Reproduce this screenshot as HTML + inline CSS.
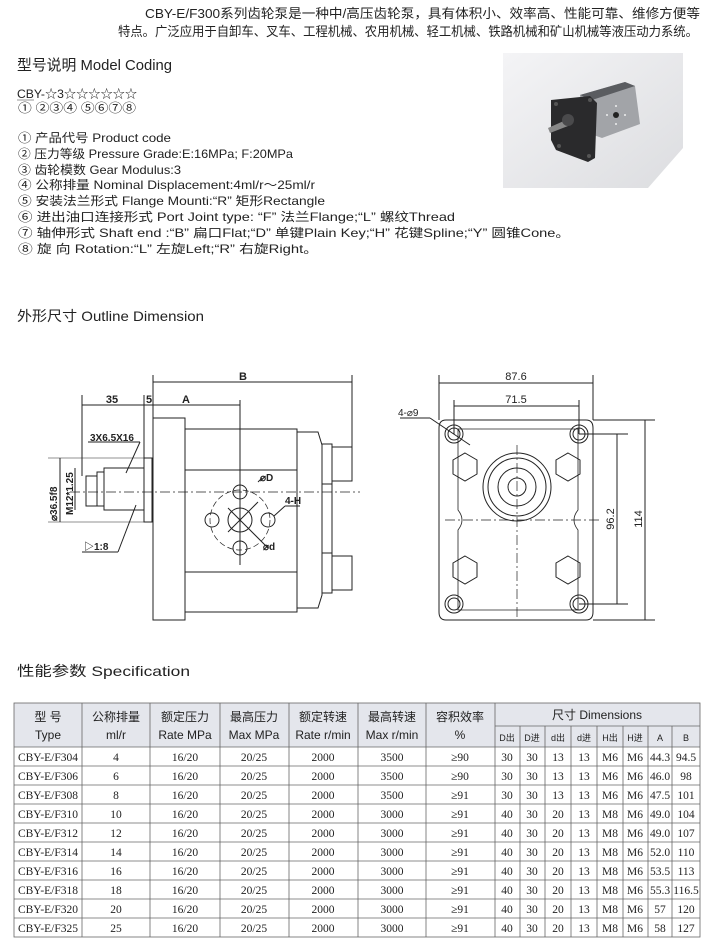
<!DOCTYPE html>
<html><head><meta charset="utf-8"><style>
body{margin:0;background:#fff;}
svg{display:block}
.t{font-family:"Liberation Sans Narrow","Liberation Sans","Noto Sans CJK SC",sans-serif;fill:#222}
.m{font-family:"Liberation Mono","Noto Sans CJK SC",monospace;fill:#222}
.s{font-family:"Liberation Serif","Noto Serif CJK SC",serif;fill:#222}
.c{font-family:"Liberation Sans","Noto Sans CJK SC",sans-serif;fill:#222}
</style></head><body>
<svg width="710" height="941" viewBox="0 0 710 941" xmlns="http://www.w3.org/2000/svg">
<defs><linearGradient id="g" x1="0" y1="0" x2="1" y2="1"><stop offset="0" stop-color="#f4f4f6"/><stop offset="1" stop-color="#dcdde0"/></linearGradient></defs>
<text class="t" x="700" y="18" font-size="13" text-anchor="end" textLength="555" lengthAdjust="spacingAndGlyphs">CBY-E/F300系列齿轮泵是一种中/高压齿轮泵，具有体积小、效率高、性能可靠、维修方便等</text>
<text class="t" x="698" y="36" font-size="13" text-anchor="end" textLength="580" lengthAdjust="spacingAndGlyphs">特点。广泛应用于自卸车、叉车、工程机械、农用机械、轻工机械、铁路机械和矿山机械等液压动力系统。</text>
<text class="t" x="17" y="70" font-size="15" textLength="155" lengthAdjust="spacingAndGlyphs">型号说明 Model Coding</text>
<text class="t" x="17" y="98" font-size="12" textLength="120" lengthAdjust="spacingAndGlyphs">CBY-☆3☆☆☆☆☆☆</text>
<line x1="17" y1="100" x2="34" y2="100" stroke="#333" stroke-width="0.6"/>
<text class="c" x="18" y="112" font-size="12" textLength="118" lengthAdjust="spacingAndGlyphs">① ②③④ ⑤⑥⑦⑧</text>
<g class="t" font-size="12">
<text x="18" y="142" textLength="153" lengthAdjust="spacingAndGlyphs">① 产品代号 Product code</text>
<text x="18" y="158" textLength="275" lengthAdjust="spacingAndGlyphs">② 压力等级 Pressure Grade:E:16MPa; F:20MPa</text>
<text x="18" y="174" textLength="163" lengthAdjust="spacingAndGlyphs">③ 齿轮模数 Gear Modulus:3</text>
<text x="18" y="189" textLength="297" lengthAdjust="spacingAndGlyphs">④ 公称排量 Nominal Displacement:4ml/r～25ml/r</text>
<text x="18" y="205" textLength="307" lengthAdjust="spacingAndGlyphs">⑤ 安装法兰形式 Flange Mounti:“R” 矩形Rectangle</text>
<text x="18" y="221" textLength="437" lengthAdjust="spacingAndGlyphs">⑥ 进出油口连接形式 Port Joint type: “F” 法兰Flange;“L” 螺纹Thread</text>
<text x="18" y="237" textLength="552" lengthAdjust="spacingAndGlyphs">⑦ 轴伸形式 Shaft end :“B” 扁口Flat;“D” 单键Plain Key;“H” 花键Spline;“Y” 圆锥Cone。</text>
<text x="18" y="253" textLength="300" lengthAdjust="spacingAndGlyphs">⑧ 旋 向 Rotation:“L” 左旋Left;“R” 右旋Right。</text>
</g>
<!-- photo -->
<polygon points="503,53 683,53 683,148 648,188 503,188" fill="url(#g)"/>
<polygon points="580,95 625,82 635,86 640,124 602,138 585,132" fill="#a2a4a8"/>
<polygon points="580,95 625,82 635,86 592,100" fill="#5a5c60"/>
<polygon points="551,100 590,96 597,103 595,158 588,162 556,150 551,140" fill="#2a2a2c"/>
<circle cx="556" cy="104" r="2" fill="#555"/><circle cx="590" cy="100" r="2" fill="#555"/><circle cx="559" cy="146" r="2" fill="#555"/><circle cx="589" cy="156" r="2" fill="#555"/>
<polygon points="548,128 566,120 568,126 550,133" fill="#888"/>
<circle cx="568" cy="120" r="6" fill="#4a4a4c"/>
<circle cx="616" cy="115" r="3" fill="#222"/>
<g fill="#eee"><circle cx="616" cy="106" r="1"/><circle cx="616" cy="124" r="1"/><circle cx="607" cy="115" r="1"/><circle cx="625" cy="115" r="1"/></g>
<text class="t" x="17" y="321" font-size="14" textLength="187" lengthAdjust="spacingAndGlyphs">外形尺寸 Outline Dimension</text>
<g stroke="#222" fill="none" stroke-width="1">
<rect x="153" y="418" width="32" height="202"/>
<rect x="185" y="429" width="112" height="183"/>
<line x1="185" y1="470" x2="297" y2="470"/><line x1="185" y1="572" x2="297" y2="572"/>
<polygon points="297,432 318,432 322,445 322,595 318,608 297,608"/>
<rect x="322" y="444" width="10" height="40"/><rect x="332" y="447" width="20" height="34"/>
<rect x="322" y="553" width="10" height="40"/><rect x="332" y="556" width="20" height="34"/>
<rect x="322" y="484" width="10" height="69"/>
<rect x="144" y="458" width="8" height="64"/>
<rect x="104" y="468" width="40" height="42"/>
<rect x="97" y="472" width="7" height="34"/>
<rect x="86" y="476" width="11" height="30"/>
<line x1="153" y1="375" x2="153" y2="418"/><line x1="352" y1="375" x2="352" y2="480"/>
<line x1="153" y1="382" x2="352" y2="382"/>
<line x1="82" y1="395" x2="82" y2="476"/><line x1="82" y1="405" x2="240" y2="405"/>
<line x1="144" y1="395" x2="144" y2="458"/><line x1="240" y1="400" x2="240" y2="565"/>
<line x1="48" y1="458" x2="144" y2="458" stroke-width="0.6"/><line x1="48" y1="522" x2="144" y2="522" stroke-width="0.6"/>
<line x1="60" y1="458" x2="60" y2="522"/>
<line x1="75" y1="468" x2="75" y2="510"/>
<line x1="88" y1="442" x2="140" y2="442"/><line x1="140" y1="442" x2="126" y2="473"/>
<line x1="82" y1="552" x2="118" y2="552"/><line x1="118" y1="552" x2="136" y2="505"/>
<line x1="70" y1="492" x2="360" y2="492" stroke-dasharray="10,3,2,3" stroke-width="0.7"/>
<circle cx="240" cy="520" r="12"/>
<circle cx="240" cy="520" r="30" stroke-dasharray="6,3" stroke-width="0.7"/>
<circle cx="240" cy="492" r="7"/><circle cx="240" cy="548" r="7"/>
<circle cx="212" cy="520" r="7"/><circle cx="268" cy="520" r="7"/>
<line x1="228" y1="532" x2="258" y2="502"/><line x1="258" y1="482" x2="262" y2="478"/>
<line x1="228" y1="508" x2="268" y2="548"/>
<line x1="274" y1="516" x2="285" y2="506"/><line x1="285" y1="506" x2="300" y2="506"/>
<path d="M446,420 H586 Q593,420 593,428 V612 Q593,620 586,620 H446 Q439,620 439,612 V428 Q439,420 446,420 Z"/>
<path d="M458,429 H578 V510 Q570,520 578,530 V610 H458 V530 Q466,520 458,510 Z" stroke-width="0.8"/>
<line x1="439" y1="375" x2="439" y2="420"/><line x1="593" y1="375" x2="593" y2="420"/>
<line x1="439" y1="383" x2="593" y2="383"/>
<line x1="454" y1="400" x2="454" y2="434"/><line x1="579" y1="400" x2="579" y2="434"/>
<line x1="454" y1="406" x2="579" y2="406"/>
<line x1="593" y1="420" x2="655" y2="420"/><line x1="593" y1="620" x2="655" y2="620"/>
<line x1="645" y1="420" x2="645" y2="620"/>
<line x1="579" y1="434" x2="628" y2="434"/><line x1="579" y1="604" x2="628" y2="604"/>
<line x1="617" y1="434" x2="617" y2="604"/>
<line x1="400" y1="418" x2="430" y2="418"/><line x1="430" y1="418" x2="470" y2="445"/>
<circle cx="454" cy="434" r="9"/><circle cx="454" cy="434" r="6"/>
<circle cx="579" cy="434" r="9"/><circle cx="579" cy="434" r="6"/>
<circle cx="454" cy="604" r="9"/><circle cx="454" cy="604" r="6"/>
<circle cx="579" cy="604" r="9"/><circle cx="579" cy="604" r="6"/>
<circle cx="517" cy="487" r="34"/><circle cx="517" cy="487" r="29"/><circle cx="517" cy="487" r="19"/><circle cx="517" cy="487" r="9"/>
<polygon points="465,453 477,460 477,474 465,481 453,474 453,460"/>
<polygon points="568,453 580,460 580,474 568,481 556,474 556,460"/>
<polygon points="465,556 477,563 477,577 465,584 453,577 453,563"/>
<polygon points="568,556 580,563 580,577 568,584 556,577 556,563"/>
<line x1="445" y1="520" x2="600" y2="520" stroke-dasharray="10,3,2,3" stroke-width="0.7"/>
<line x1="517" y1="445" x2="517" y2="620" stroke-dasharray="10,3,2,3" stroke-width="0.7"/>
</g>
<g class="c" font-size="11" font-weight="bold">
<text x="243" y="380" text-anchor="middle">B</text>
<text x="186" y="403" text-anchor="middle">A</text>
<text x="112" y="403" text-anchor="middle">35</text>
<text x="149" y="403" text-anchor="middle">5</text>
<text x="90" y="441" font-size="10">3X6.5X16</text>
<text x="260" y="481" font-size="10">⌀D</text>
<text x="285" y="504" font-size="10">4-H</text>
<text x="263" y="550" font-size="10">⌀d</text>
<text x="84" y="550" font-size="10">▷1:8</text>
<text transform="translate(57,521) rotate(-90)" font-size="10">⌀36.5f8</text>
<text transform="translate(73,515) rotate(-90)" font-size="10">M12*1.25</text>
<text x="516" y="380" text-anchor="middle" font-weight="normal">87.6</text>
<text x="516" y="403" text-anchor="middle" font-weight="normal">71.5</text>
<text x="398" y="416" font-size="10" font-weight="normal">4-⌀9</text>
<text transform="translate(614,519) rotate(-90)" text-anchor="middle" font-weight="normal">96.2</text>
<text transform="translate(642,519) rotate(-90)" text-anchor="middle" font-weight="normal">114</text>
</g>
<text class="t" x="17" y="676" font-size="14" textLength="173" lengthAdjust="spacingAndGlyphs">性能参数 Specification</text>
<rect x="14" y="703" width="686" height="44" fill="#e4e6ec"/>
<g stroke="#666" stroke-width="0.8" fill="none">
<rect x="14" y="703" width="686" height="234"/>
<line x1="495" y1="726" x2="700" y2="726"/>
<line x1="14" y1="747" x2="700" y2="747"/>
<line x1="14" y1="766" x2="700" y2="766"/><line x1="14" y1="785" x2="700" y2="785"/><line x1="14" y1="804" x2="700" y2="804"/><line x1="14" y1="823" x2="700" y2="823"/><line x1="14" y1="842" x2="700" y2="842"/><line x1="14" y1="861" x2="700" y2="861"/><line x1="14" y1="880" x2="700" y2="880"/><line x1="14" y1="899" x2="700" y2="899"/><line x1="14" y1="918" x2="700" y2="918"/>
<line x1="82" y1="703" x2="82" y2="937"/><line x1="150" y1="703" x2="150" y2="937"/><line x1="220" y1="703" x2="220" y2="937"/><line x1="289" y1="703" x2="289" y2="937"/><line x1="358" y1="703" x2="358" y2="937"/><line x1="426" y1="703" x2="426" y2="937"/><line x1="495" y1="703" x2="495" y2="937"/>
<line x1="520" y1="726" x2="520" y2="937"/><line x1="545" y1="726" x2="545" y2="937"/><line x1="571" y1="726" x2="571" y2="937"/><line x1="597" y1="726" x2="597" y2="937"/><line x1="623" y1="726" x2="623" y2="937"/><line x1="648" y1="726" x2="648" y2="937"/><line x1="672" y1="726" x2="672" y2="937"/>
</g>
<g class="t" font-size="12" text-anchor="middle">
<text x="48" y="721">型 号</text><text x="48" y="739">Type</text>
<text x="116" y="721">公称排量</text><text x="116" y="739">ml/r</text>
<text x="185" y="721">额定压力</text><text x="185" y="739">Rate MPa</text>
<text x="254" y="721">最高压力</text><text x="254" y="739">Max MPa</text>
<text x="323" y="721">额定转速</text><text x="323" y="739">Rate r/min</text>
<text x="392" y="721">最高转速</text><text x="392" y="739">Max r/min</text>
<text x="460" y="721">容积效率</text><text x="460" y="739">%</text>
<text x="597" y="719">尺寸 Dimensions</text>
<g font-size="9"><text x="507" y="741">D出</text><text x="532" y="741">D进</text><text x="558" y="741">d出</text><text x="584" y="741">d进</text><text x="610" y="741">H出</text><text x="635" y="741">H进</text><text x="660" y="741">A</text><text x="686" y="741">B</text></g>
</g>
<g class="s" font-size="11.5" text-anchor="middle">
<g transform="translate(0,761)"><text x="48">CBY-E/F304</text><text x="116">4</text><text x="185">16/20</text><text x="254">20/25</text><text x="323">2000</text><text x="392">3500</text><text x="460">≥90</text><text x="507">30</text><text x="532">30</text><text x="558">13</text><text x="584">13</text><text x="610">M6</text><text x="635">M6</text><text x="660">44.3</text><text x="686">94.5</text></g>
<g transform="translate(0,780)"><text x="48">CBY-E/F306</text><text x="116">6</text><text x="185">16/20</text><text x="254">20/25</text><text x="323">2000</text><text x="392">3500</text><text x="460">≥90</text><text x="507">30</text><text x="532">30</text><text x="558">13</text><text x="584">13</text><text x="610">M6</text><text x="635">M6</text><text x="660">46.0</text><text x="686">98</text></g>
<g transform="translate(0,799)"><text x="48">CBY-E/F308</text><text x="116">8</text><text x="185">16/20</text><text x="254">20/25</text><text x="323">2000</text><text x="392">3500</text><text x="460">≥91</text><text x="507">30</text><text x="532">30</text><text x="558">13</text><text x="584">13</text><text x="610">M6</text><text x="635">M6</text><text x="660">47.5</text><text x="686">101</text></g>
<g transform="translate(0,818)"><text x="48">CBY-E/F310</text><text x="116">10</text><text x="185">16/20</text><text x="254">20/25</text><text x="323">2000</text><text x="392">3000</text><text x="460">≥91</text><text x="507">40</text><text x="532">30</text><text x="558">20</text><text x="584">13</text><text x="610">M8</text><text x="635">M6</text><text x="660">49.0</text><text x="686">104</text></g>
<g transform="translate(0,837)"><text x="48">CBY-E/F312</text><text x="116">12</text><text x="185">16/20</text><text x="254">20/25</text><text x="323">2000</text><text x="392">3000</text><text x="460">≥91</text><text x="507">40</text><text x="532">30</text><text x="558">20</text><text x="584">13</text><text x="610">M8</text><text x="635">M6</text><text x="660">49.0</text><text x="686">107</text></g>
<g transform="translate(0,856)"><text x="48">CBY-E/F314</text><text x="116">14</text><text x="185">16/20</text><text x="254">20/25</text><text x="323">2000</text><text x="392">3000</text><text x="460">≥91</text><text x="507">40</text><text x="532">30</text><text x="558">20</text><text x="584">13</text><text x="610">M8</text><text x="635">M6</text><text x="660">52.0</text><text x="686">110</text></g>
<g transform="translate(0,875)"><text x="48">CBY-E/F316</text><text x="116">16</text><text x="185">16/20</text><text x="254">20/25</text><text x="323">2000</text><text x="392">3000</text><text x="460">≥91</text><text x="507">40</text><text x="532">30</text><text x="558">20</text><text x="584">13</text><text x="610">M8</text><text x="635">M6</text><text x="660">53.5</text><text x="686">113</text></g>
<g transform="translate(0,894)"><text x="48">CBY-E/F318</text><text x="116">18</text><text x="185">16/20</text><text x="254">20/25</text><text x="323">2000</text><text x="392">3000</text><text x="460">≥91</text><text x="507">40</text><text x="532">30</text><text x="558">20</text><text x="584">13</text><text x="610">M8</text><text x="635">M6</text><text x="660">55.3</text><text x="686">116.5</text></g>
<g transform="translate(0,913)"><text x="48">CBY-E/F320</text><text x="116">20</text><text x="185">16/20</text><text x="254">20/25</text><text x="323">2000</text><text x="392">3000</text><text x="460">≥91</text><text x="507">40</text><text x="532">30</text><text x="558">20</text><text x="584">13</text><text x="610">M8</text><text x="635">M6</text><text x="660">57</text><text x="686">120</text></g>
<g transform="translate(0,932)"><text x="48">CBY-E/F325</text><text x="116">25</text><text x="185">16/20</text><text x="254">20/25</text><text x="323">2000</text><text x="392">3000</text><text x="460">≥91</text><text x="507">40</text><text x="532">30</text><text x="558">20</text><text x="584">13</text><text x="610">M8</text><text x="635">M6</text><text x="660">58</text><text x="686">127</text></g>
</g>
</svg>
</body></html>
